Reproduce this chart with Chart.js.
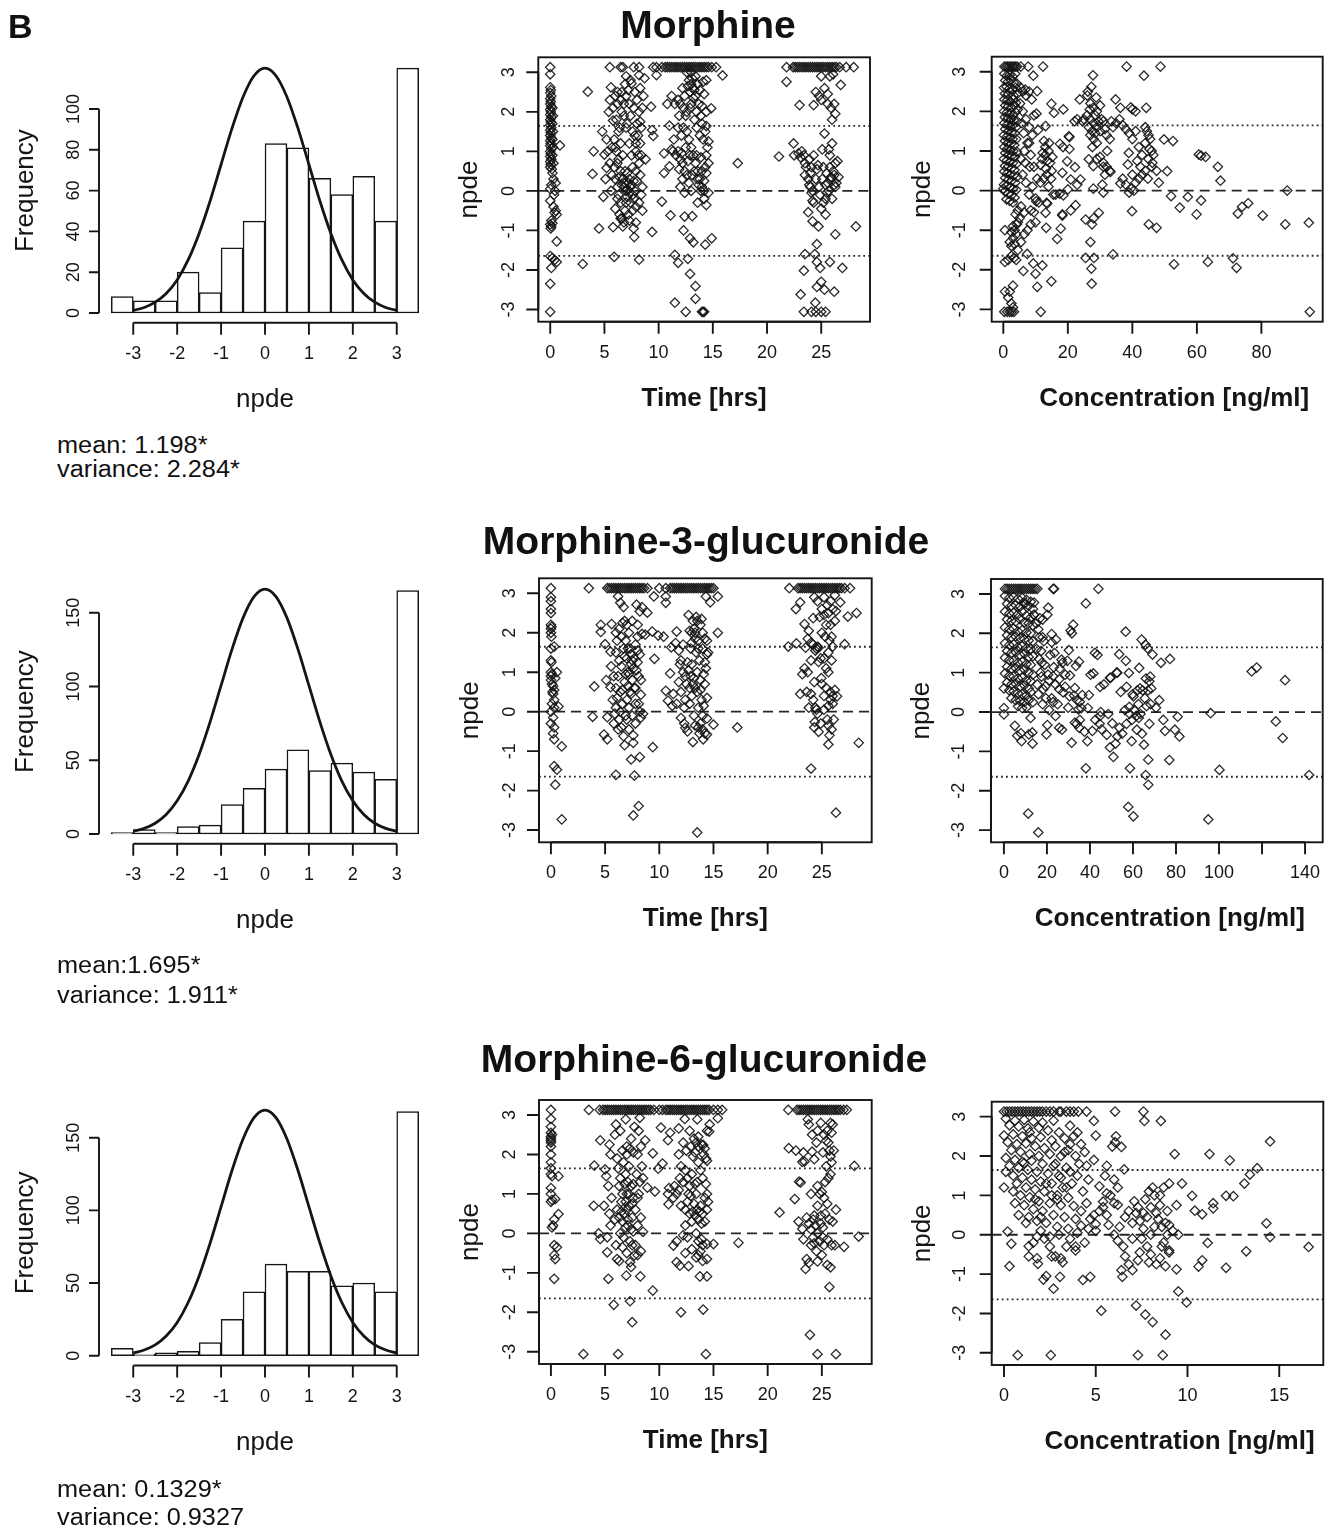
<!DOCTYPE html>
<html><head><meta charset="utf-8">
<script src="https://cdn.jsdelivr.net/npm/chart.js@4.4.1/dist/chart.umd.min.js"></script>
<style>
html,body{margin:0;padding:0;background:#fff;}
#page{position:relative;width:1333px;height:1537px;overflow:hidden;font-family:"Liberation Sans",Arial,Helvetica,sans-serif;color:#111;}
#page canvas{position:absolute;}
.t{position:absolute;white-space:nowrap;line-height:1;}
</style></head><body><div id="page"></div>
<script>
// ---------------- DATA ----------------
const titles = ["Morphine", "Morphine-3-glucuronide", "Morphine-6-glucuronide"];
const statsMean = ["mean: 1.198*", "mean:1.695*", "mean: 0.1329*"];
const statsVar = ["variance: 2.284*", "variance: 1.911*", "variance: 0.9327"];

const histCenters = [-3.25,-2.75,-2.25,-1.75,-1.25,-0.75,-0.25,0.25,0.75,1.25,1.75,2.25,2.75,3.25];
const morHist = [8,6,6,20,10,32,45,83,81,66,58,67,45,120];
const m3gHist = [1,3,1,5,6,20,31,44,57,43,48,42,37,165];
const m6gHist = [5,1,2,3,9,25,44,63,58,58,48,50,44,168];

const curveX = [-3,-2.75,-2.5,-2.25,-2,-1.75,-1.5,-1.25,-1,-0.75,-0.5,-0.25,0,0.25,0.5,0.75,1,1.25,1.5,1.75,2,2.25,2.5,2.75,3];
const morCurve = [1.3,2.7,5.3,9.6,16.2,26.0,39.0,54.9,72.8,90.6,105.9,116.3,120,116.3,105.9,90.6,72.8,54.9,39.0,26.0,16.2,9.6,5.3,2.7,1.3];
const m3gCurve = [1.8,3.8,7.3,13.2,22.5,35.9,53.9,76.0,100.7,125.3,146.5,160.9,166,160.9,146.5,125.3,100.7,76.0,53.9,35.9,22.5,13.2,7.3,3.8,1.8];
const m6gCurve = [1.9,3.9,7.4,13.5,22.9,36.6,54.9,77.4,102.5,127.6,149.1,163.8,169,163.8,149.1,127.6,102.5,77.4,54.9,36.6,22.9,13.5,7.4,3.9,1.9];

const histXTicks = [-3,-2,-1,0,1,2,3];
const morFreqTicks = [0,20,40,60,80,100];
const glucFreqTicks = [0,50,100,150];
const npdeTicks = [-3,-2,-1,0,1,2,3];
const timeTicks = [0,5,10,15,20,25];
const morConcTicks = [0,20,40,60,80];
const m3gConcTicks = [0,20,40,60,80,100,120,140];
const m3gConcLabels = ["0","20","40","60","80","100","","140"];
const m6gConcTicks = [0,5,10,15];

const refLevels = [0, 1.645, -1.645];
const CAP_HI = 3.13, CAP_LO = -3.06;

// Morphine npde vs time  (flat x,y pairs)
const morTimePts = [0,2.95,0,2.62,0.05,2.55,0,2.48,0.1,2.4,0,2.33,0.05,2.26,0,2.2,0.1,2.13,0,2.06,0.05,2.0,0,1.93,0.1,1.87,0,1.8,0.05,1.74,0,1.67,0.1,1.6,0,1.54,0.05,1.47,0,1.4,0.1,1.34,0,1.27,0.05,1.2,0,1.14,0.1,1.07,0,1.0,0.05,0.94,0,0.87,0.1,0.8,0,0.74,0.05,0.67,0,0.6,0.15,0.55,0.2,2.1,0.2,1.7,0.2,1.3,0.2,0.9,0.25,1.9,0.25,1.5,0.25,1.1,0.3,0.7,0.2,0.45,0.3,0.3,0.1,0.15,0,0.05,0.35,-0.1,0,-0.25,0.3,-0.4,0.5,-0.5,0.6,-0.6,0.1,-0.75,0,-0.85,0.1,-0.9,0.2,-0.82,0.05,-0.95,0,-1.65,0.2,-1.7,0.1,-1.95,0.6,-1.8,0.6,-1.28,0.9,1.15,0.4,-0.55,0,-2.35,0.4,-1.75,0.5,0.2,0.45,0.0,
3.47,2.51,3.0,-1.85,3.9,0.43,4.0,1.0,4.5,-0.95,4.8,1.5,5.0,0.92,5.1,0.3,4.9,-0.15,5.2,1.3,5.2,0.58,5.5,2.3,5.6,2.62,5.8,-0.92,5.8,1.78,6.0,2.4,5.7,0.4,6.0,0.3,6.2,0.1,6.2,-0.2,6.4,-0.6,6.6,-0.7,6.8,-0.8,6.5,-0.3,5.9,-1.67,6.7,-0.9,6.6,2.0,6.8,2.2,7.0,2.4,7.2,2.55,7.0,1.6,7.3,1.2,7.5,0.9,7.6,0.6,7.2,0.2,7.4,0.1,7.6,-0.1,7.0,0.0,7.8,0.0,7.0,-0.3,7.6,-0.5,7.2,-0.6,7.9,-0.8,7.75,-1.17,8.2,-1.74,8.2,2.93,7.5,2.72,8.8,0.8,8.3,0.4,8.3,1.2,8.0,1.7,8.2,2.0,8.0,2.3,8.5,-0.5,8.2,-0.3,8.5,0.1,
6.1,1.8,6.3,1.5,6.5,1.2,6.7,0.9,6.2,0.7,6.9,0.5,6.4,0.35,6.8,0.1,7.1,-0.15,7.3,-0.05,7.7,0.25,7.9,0.5,8.1,0.9,7.8,1.4,7.4,1.9,7.7,2.1,6.9,2.7,6.2,2.2,5.9,1.3,5.4,2.0,5.6,0.0,6.0,-0.45,7.4,-0.3,7.1,0.45,6.6,0.15,7.9,1.0,8.4,1.6,8.6,2.4,8.7,2.85,8.4,-0.1,
5.3,1.0,5.5,0.7,5.7,1.1,5.9,0.6,6.1,1.0,6.3,0.8,6.5,0.5,6.7,0.3,6.9,0.2,7.1,0.05,7.3,0.3,7.5,0.15,7.7,-0.2,7.9,-0.4,6.3,-0.1,6.5,-0.7,6.9,-0.5,7.3,-0.75,7.7,-0.95,5.8,2.1,6.2,2.5,6.5,2.3,6.8,1.9,7.1,1.7,7.3,2.2,7.6,1.5,7.9,1.2,8.1,1.4,8.3,1.75,8.5,2.1,8.3,2.6,6.0,1.1,6.4,1.6,6.6,2.5,7.0,2.9,7.4,2.8,7.8,2.5,8.0,0.25,8.2,0.7,8.4,0.9,
9.3,2.13,9.4,1.54,9.5,1.39,9.4,-1.04,9.8,2.93,
10.3,-0.27,10.5,0.45,10.5,0.95,10.8,2.2,11.2,2.4,11.0,1.65,11.3,1.0,11.0,0.62,11.1,-0.62,11.5,-1.62,11.8,-1.82,11.5,-2.83,12.3,-1.0,12.4,-0.65,12.9,-1.2,12.7,-1.72,12.9,-2.1,13.4,-2.73,13.4,-2.41,13.2,-1.3,13.1,-0.64,14.3,-1.36,14.9,-1.2,13.6,-0.3,14.4,-0.36,14.6,1.25,14.4,1.64,14.85,2.09,15.9,2.92,12.6,3.0,12.8,2.8,13.0,2.7,13.2,2.6,12.9,2.5,13.4,2.4,13.0,2.2,12.6,2.0,13.5,2.0,12.3,2.1,12.0,2.2,11.8,2.3,13.7,2.2,14.0,2.15,14.4,2.0,14.1,2.76,14.4,2.8,13.1,2.85,13.3,2.55,12.7,2.65,
11.4,1.3,11.6,0.9,11.8,1.0,12.0,0.8,12.2,0.7,12.4,0.5,12.3,1.6,12.6,1.5,12.8,1.3,13.0,1.1,13.2,0.9,13.4,0.7,13.6,0.5,13.8,0.3,14.0,0.1,14.2,0.0,12.0,0.1,12.4,-0.05,13.1,0.4,13.5,0.9,13.8,1.4,14.0,1.7,14.3,0.6,14.4,0.9,14.0,0.5,12.8,0.2,11.9,0.55,13.3,1.8,14.1,1.3,14.6,0.7,14.4,0.45,11.2,1.05,11.8,1.6,12.5,1.9,13.0,0.0,14.6,-0.05,12.1,0.95,12.7,0.75,13.7,0.15,14.2,0.25,13.9,0.85,17.3,0.7,
11.5,2.2,11.9,1.9,12.1,1.4,12.5,1.1,12.9,0.9,13.3,0.5,13.6,0.3,13.9,0.0,14.2,-0.2,12.6,0.4,12.2,0.3,13.5,1.6,13.9,1.9,14.3,1.5,14.5,1.1,13.0,3.0,13.4,2.9,13.6,2.7,13.8,2.55,12.4,2.4,12.2,2.6,14.2,2.45,13.2,2.35,12.9,2.1,
21.1,0.87,21.8,2.76,22.45,1.2,22.5,0.9,23.2,1.0,23.4,0.9,23.6,0.6,23.8,0.3,24.0,0.1,24.2,0.0,23.5,0.4,24.1,0.6,24.5,0.3,24.8,0.1,24.3,-0.3,24.9,-0.1,25.4,-0.2,25.6,0.2,25.9,0.3,26.2,0.15,26.4,0.2,26.1,0.5,25.8,0.9,26.0,1.2,25.3,1.45,26.3,0.7,26.5,0.75,23.0,2.17,24.3,2.17,24.5,2.5,24.8,2.4,25.0,2.3,25.3,2.6,25.6,2.2,25.9,2.1,26.0,1.8,26.2,2.2,25.0,2.9,25.8,2.9,26.1,2.95,26.8,2.68,23.8,-0.54,24.2,-0.77,24.75,-0.9,24.2,-0.25,25.0,-0.45,25.4,-0.6,26.3,-1.1,28.2,-0.9,24.6,-1.35,23.5,-1.6,24.4,-1.6,24.6,-1.8,24.9,-1.95,23.4,-2.02,23.1,-2.62,24.6,-2.43,25.0,-2.3,25.3,-2.5,26.2,-2.55,25.8,-1.8,26.95,-1.95,24.45,-2.83,22.9,0.95,23.1,0.85,25.1,1.05,25.5,0.45,25.7,0.0,26.0,-0.2,25.2,0.6,24.6,0.55,25.9,0.35,26.3,0.1,24.0,0.45,25.5,-0.05,25.2,-0.3,26.6,0.35,25.6,2.45,26.3,1.95,25.7,1.05,
23.5,0.7,23.9,0.8,24.3,0.9,24.7,0.65,25.1,0.3,25.4,0.15,25.8,0.6,26.2,0.4,24.1,-0.05,23.9,0.15];
const morTimeCapHi = [0,5.5,6.5,6.7,7.7,8.2,9.5,9.8,10.3,10.6,10.8,11.0,11.2,11.4,11.6,11.8,12.0,12.2,12.4,12.6,12.8,13.0,13.2,13.4,13.6,13.8,14.0,14.2,14.4,14.6,14.9,15.3,21.8,22.4,22.6,22.8,23.0,23.2,23.4,23.6,23.8,24.0,24.2,24.4,24.6,24.8,25.0,25.2,25.4,25.6,25.8,26.0,26.2,26.4,26.7,27.3,28.0];
const morTimeCapLo = [0,12.5,14.0,14.1,14.2,23.4,24.1,24.5,25.0,25.4];

// Morphine npde vs concentration
const morConcPts = [0.3,2.95,1.1,2.9,2.0,2.92,2.9,2.88,3.7,2.95,0.6,2.78,1.5,2.75,2.4,2.8,3.3,2.72,4.2,2.7,0.2,2.6,1.0,2.62,1.9,2.58,2.8,2.55,3.8,2.6,0.5,2.45,1.4,2.42,2.3,2.48,3.2,2.4,4.4,2.45,0.3,2.3,1.2,2.28,2.1,2.25,3.0,2.3,3.9,2.22,0.6,2.15,1.5,2.12,2.5,2.1,3.4,2.15,4.5,2.05,0.2,2.0,1.1,1.97,2.0,1.95,2.9,1.9,3.8,1.98,0.5,1.85,1.4,1.82,2.4,1.8,3.3,1.78,4.3,1.75,0.3,1.7,1.2,1.66,2.1,1.62,3.0,1.65,3.9,1.6,0.6,1.55,1.6,1.5,2.6,1.48,3.5,1.45,0.2,1.4,1.1,1.36,2.0,1.33,2.9,1.3,4.0,1.3,0.5,1.25,1.4,1.2,2.4,1.18,3.4,1.15,0.3,1.1,1.2,1.05,2.2,1.02,3.1,1.0,4.2,0.98,0.6,0.95,1.6,0.9,2.6,0.88,3.6,0.85,0.2,0.8,1.1,0.76,2.0,0.72,3.0,0.7,4.1,0.68,0.5,0.62,1.5,0.6,2.5,0.56,3.5,0.52,0.3,0.48,1.2,0.44,2.2,0.4,3.2,0.38,4.3,0.35,0.6,0.32,1.6,0.28,2.6,0.25,3.7,0.2,0.2,0.15,1.1,0.12,2.1,0.08,3.0,0.05,4.0,0.02,0.5,-0.02,1.5,-0.08,2.5,-0.12,3.5,-0.18,1.0,-0.22,2.0,-0.26,3.0,-0.3,0.0,0.05,
4.5,-0.5,3.8,-0.6,5.0,-0.7,4.2,-0.85,3.0,-0.9,2.5,-1.05,3.5,-1.0,4.0,-1.1,3.0,-1.2,2.0,-1.3,2.5,-1.4,3.5,-1.35,4.5,-0.8,0.5,-1.0,3.3,-1.7,0.5,-1.8,1.5,-1.75,2.5,-1.65,4.0,-1.75,3.0,-2.4,2.0,-2.55,0.5,-2.55,1.5,-2.7,2.5,-2.85,3.0,-2.95,5.5,-0.4,6.5,-0.55,
5.4,2.6,6.0,2.5,7.0,2.4,8.0,2.5,9.3,2.9,10.5,2.51,5.2,2.2,6.0,2.0,7.0,1.8,8.0,1.6,9.5,1.9,10.3,1.94,10.8,1.53,13.1,1.63,14.9,2.19,15.7,1.96,18.6,2.05,12.6,1.25,14.0,1.0,13.0,0.9,12.0,0.8,14.5,0.7,15.0,0.5,13.5,0.4,12.5,0.3,14.0,0.1,15.5,-0.1,11.5,0.2,10.5,0.3,9.5,0.6,8.5,0.9,8.0,1.2,6.5,1.0,5.5,0.8,6.0,0.4,7.0,0.2,8.0,-0.1,9.0,0.1,10.0,-0.2,11.0,-0.3,13.0,1.1,14.2,1.2,12.2,0.95,13.6,0.75,11.5,0.65,15.2,0.85,14.8,0.3,13.2,0.55,6.8,2.55,8.8,2.3,6.3,1.45,7.5,1.2,5.8,1.7,9.0,1.4,8.2,0.6,6.8,0.7,
17.55,1.18,20.5,1.35,20.3,1.37,18.5,1.1,20.5,1.05,19.8,0.74,22.2,0.59,23.9,0.28,20.9,0.28,18.3,0.45,16.2,-0.1,18.6,-0.12,17.5,-0.08,20.0,0.03,22.9,0.15,22.4,-0.37,20.9,-0.5,18.3,-0.6,17.8,-0.96,16.7,-1.22,13.6,-0.33,13.4,-0.31,13.1,-0.56,13.3,-0.94,10.2,-0.27,9.5,-0.55,8.5,-0.85,7.5,-1.0,6.5,-1.1,5.5,-1.3,4.5,-1.5,8.5,-0.5,10.0,-0.8,9.3,-1.84,10.0,-2.1,12.1,-1.89,6.2,-2.03,7.4,-1.6,14.9,-2.29,10.5,-2.43,22.1,1.75,22.9,1.8,18.3,-0.63,
23.7,2.3,26.2,2.5,27.3,2.62,27.8,2.91,26.0,2.4,27.0,2.2,28.0,2.1,29.0,2.0,30.0,2.15,26.0,1.9,27.0,1.8,28.0,1.7,29.0,1.6,30.0,1.5,27.0,1.4,28.0,1.3,29.0,1.2,26.5,1.6,27.5,1.5,28.5,1.9,30.5,1.8,31.0,1.75,31.5,1.55,32.0,1.4,33.0,1.3,27.6,1.1,27.9,0.62,26.5,0.79,29.0,0.8,30.0,0.85,31.0,0.7,32.0,0.6,33.0,0.5,32.2,1.0,29.6,-0.56,25.5,-0.73,28.0,-0.7,27.5,-0.85,27.0,-1.3,25.5,-1.7,28.1,-1.7,27.3,-1.97,27.4,-2.35,34.0,-1.61,27.9,0.05,30.7,0.15,31.0,-0.05,31.5,0.4,33.2,0.47,31.0,0.6,28.5,1.45,29.5,1.75,26.8,2.05,28.8,2.35,25.0,1.8,24.5,1.75,
34.8,2.3,36.3,2.09,40.0,2.05,41.0,2.0,39.5,2.1,36.0,1.8,37.0,1.65,38.0,1.55,34.0,1.6,35.0,1.7,33.5,1.75,39.0,1.45,40.0,1.3,41.0,1.5,44.0,1.6,45.0,1.4,44.5,1.5,45.5,1.3,46.0,1.0,44.0,1.2,42.0,1.1,43.0,0.9,42.5,0.6,44.0,0.5,45.0,0.8,46.0,0.6,46.5,0.9,47.5,0.5,38.9,0.95,38.6,0.66,37.0,0.3,38.0,0.15,36.3,0.18,40.0,0.4,41.0,0.2,42.0,0.3,39.5,0.05,43.0,0.4,39.0,-0.05,40.5,0.0,43.6,2.9,44.3,2.09,45.3,1.05,46.2,0.7,44.8,0.3,41.5,0.75,
50.8,0.49,49.8,1.29,52.6,1.25,48.2,0.2,39.9,-0.52,45.1,-0.85,47.5,-0.94,52.0,-0.14,54.7,-0.43,57.2,-0.16,59.9,-0.6,61.3,-0.25,60.6,0.91,61.3,0.88,62.7,0.85,66.5,0.6,67.3,0.25,52.9,-1.86,63.4,-1.8,71.2,-1.71,72.3,-1.95,72.7,-0.58,74.0,-0.41,75.9,-0.32,80.4,-0.63,88.0,0.0,87.4,-0.85,94.7,-0.81];
const morConcCapHi = [0.3,0.8,1.3,1.8,2.3,2.8,3.3,3.8,4.3,5.4,7.7,12.3,38.2,48.7];
const morConcCapLo = [0.3,1.2,2.0,2.6,3.3,11.6,95.0];

// M3G npde vs time
const m3gTimePts = [0,2.9,0,2.8,0,2.6,0,2.5,0,2.2,0.05,2.15,0,2.1,0,2.0,0.05,1.9,0,1.6,0.3,1.65,0,1.3,0.05,1.25,0,1.0,0.1,0.95,0,0.9,0,0.8,0.1,0.7,0.2,0.65,0.3,0.55,0.2,0.45,0.3,0.3,0.1,0.2,0.3,0.1,0.7,0.13,0,0.0,0.2,-0.15,0,-0.3,0.3,-0.4,0.2,-0.55,0.3,-0.7,0.55,1.0,1.0,-0.88,0.3,-1.38,0.55,-1.47,0.4,-1.85,1.0,-2.73,0.4,0.85,0.15,0.5,
3.85,-0.13,4.0,0.64,4.6,2.2,4.6,2.02,5.0,1.71,5.1,0.8,5.5,0.62,5.2,-0.14,4.9,-0.58,5.2,-0.7,5.6,2.22,5.5,1.52,5.55,1.15,6.0,1.5,6.0,2.0,6.2,0.9,6.0,0.6,6.4,0.5,6.0,0.1,6.3,-0.2,6.5,-0.4,5.9,-0.05,6.0,-1.6,6.2,2.92,6.4,2.76,6.7,2.65,6.8,2.3,7.0,2.2,6.6,2.25,7.2,2.0,6.9,1.8,7.3,1.6,7.0,1.35,7.4,1.2,7.6,1.1,7.2,0.95,7.5,0.8,7.7,0.6,7.3,0.5,7.0,0.3,7.8,0.2,7.2,0.1,7.5,-0.1,7.0,-0.2,7.8,-0.3,6.7,-0.62,7.6,-0.6,7.6,-0.79,7.4,-1.21,8.2,-1.15,7.7,-1.62,7.6,-2.63,8.1,-2.39,7.9,2.71,8.2,2.54,8.4,2.65,8.9,2.51,8.4,1.97,8.0,1.9,8.2,1.45,8.0,1.25,8.1,0.9,8.3,0.8,8.3,0.43,8.2,0.0,8.5,-0.05,8.3,-0.15,8.7,1.95,6.5,1.15,6.8,0.75,6.3,1.3,6.6,0.2,7.1,0.65,7.4,1.45,6.1,0.35,5.8,0.9,7.9,1.05,7.7,1.35,6.9,-0.1,6.4,0.0,7.1,1.0,6.7,1.6,
5.7,0.3,5.8,-0.3,6.1,1.8,6.3,2.1,6.5,1.9,6.8,1.4,7.1,1.6,7.5,1.3,7.8,1.7,8.0,1.55,7.4,0.45,7.8,0.6,8.1,0.2,6.6,0.55,6.9,0.95,6.2,-0.45,7.2,-0.45,6.8,-0.85,8.0,2.2,7.5,2.3,
9.35,2.03,9.9,1.93,10.4,1.9,9.55,1.34,9.4,-0.9,9.5,2.92,10.6,2.92,10.6,2.76,
10.6,0.53,10.8,0.28,11.2,0.15,11.3,0.45,11.0,0.97,11.1,1.63,11.5,1.74,11.6,2.03,11.8,1.55,12.0,1.3,12.2,1.0,11.8,0.75,12.0,0.5,11.6,0.2,12.3,0.1,12.5,0.7,12.6,1.25,12.9,0.9,12.8,0.6,13.0,0.4,12.7,2.45,12.8,2.05,13.0,2.0,13.2,2.1,13.5,2.3,13.4,2.4,13.8,2.2,14.0,2.0,13.6,1.8,14.2,1.85,14.4,1.8,14.0,1.6,13.4,1.5,14.4,1.45,14.5,1.5,13.0,1.2,13.5,1.0,13.8,0.8,14.2,0.7,13.3,0.6,13.9,0.3,14.4,0.35,13.6,0.1,14.0,-0.1,12.0,-0.16,12.4,-0.41,12.6,-0.5,13.3,-0.35,13.6,-0.4,13.8,-0.3,14.0,-0.45,14.2,-0.55,14.4,-0.17,15.0,-0.33,14.4,-0.58,14.05,-0.7,13.1,-0.77,15.4,2.0,15.4,2.92,14.7,2.77,14.3,2.92,13.3,1.85,12.9,1.6,13.2,0.85,14.3,1.1,13.7,1.3,12.4,0.3,14.1,0.95,12.2,1.7,13.1,2.3,17.2,-0.4,
11.9,1.2,12.4,0.9,12.7,1.05,13.1,0.7,13.5,0.5,13.8,0.55,14.1,0.15,13.2,-0.1,12.8,0.2,13.6,1.6,13.9,2.35,13.3,2.0,13.0,1.75,14.2,1.25,13.7,-0.55,12.3,-0.3,
21.9,1.65,22.65,1.73,22.6,2.6,23.0,2.77,23.0,0.45,23.4,1.1,23.7,1.0,23.5,1.62,23.4,2.22,23.8,2.05,23.7,1.85,24.0,1.75,24.2,1.7,24.5,1.6,24.4,1.55,24.0,1.3,24.7,1.26,23.8,0.1,23.6,0.5,24.0,0.45,24.2,0.3,24.4,0.1,24.5,0.05,24.6,-0.05,24.35,-0.26,24.3,-0.4,24.7,-0.51,24.0,-1.44,24.2,2.37,24.3,2.9,24.6,2.8,25.0,2.6,25.2,2.9,25.5,2.7,25.8,2.8,25.6,2.5,26.0,2.6,26.2,2.3,25.4,2.2,25.0,2.0,25.3,1.9,25.7,1.8,25.6,1.5,25.9,1.3,25.4,1.1,25.6,1.0,24.95,0.85,25.0,0.7,25.4,0.6,25.8,0.5,26.0,0.4,26.4,0.39,26.0,0.2,25.6,0.15,25.2,0.05,25.5,-0.2,25.6,-0.35,25.9,-0.45,25.7,-0.6,25.6,-0.83,26.3,-2.56,26.2,2.95,26.7,2.77,26.3,2.55,27.1,1.71,27.4,2.41,28.2,2.5,28.4,-0.79,26.0,1.65,24.6,1.65,24.7,1.62,23.2,0.95,26.2,0.55,25.2,1.35,
24.8,2.4,25.2,2.45,25.8,2.2,25.9,1.9,24.9,1.35,25.2,0.4,25.8,0.3,26.1,-0.2,24.3,0.75,24.9,-0.3];
const m3gTimeCapHi = [0,3.5,5.2,5.4,5.6,5.8,6.0,6.2,6.4,6.6,6.8,7.0,7.2,7.4,7.6,7.8,8.0,8.2,8.4,8.6,8.9,10.0,10.6,11.0,11.2,11.4,11.6,11.8,12.0,12.2,12.4,12.6,12.8,13.0,13.2,13.4,13.6,13.8,14.0,14.2,14.4,14.6,14.8,15.0,22.0,22.8,23.0,23.2,23.4,23.6,23.8,24.0,24.2,24.4,24.6,24.8,25.0,25.2,25.4,25.6,25.8,26.0,26.2,26.4,26.6,26.8,27.1,27.6];
const m3gTimeCapLo = [13.5];

// M3G npde vs concentration
const m3gConcPts = [0.5,2.95,2.5,2.9,4.5,2.92,6.5,2.88,8.5,2.9,10.5,2.85,12.5,2.8,14,2.78,1.5,2.75,3.5,2.7,5.5,2.72,7.5,2.68,9.5,2.76,11.5,2.7,13.5,2.62,0.5,2.55,2.5,2.5,4.5,2.52,6.5,2.48,8.5,2.55,10.5,2.45,12.5,2.4,14.0,2.47,1.5,2.35,3.5,2.32,5.5,2.3,7.5,2.36,9.5,2.28,11.5,2.25,13.5,2.2,0.5,2.15,2.5,2.1,4.5,2.12,6.5,2.05,8.5,2.08,10.5,2.02,12.5,2.0,1.5,1.95,3.5,1.9,5.5,1.92,7.5,1.88,9.5,1.85,11.5,1.82,13.5,1.8,0.5,1.75,2.5,1.7,4.5,1.72,6.5,1.65,8.5,1.68,10.5,1.62,12.5,1.6,1.5,1.55,3.5,1.5,5.5,1.52,7.5,1.45,9.5,1.48,11.5,1.4,13.5,1.42,0.5,1.38,2.5,1.32,4.5,1.3,6.5,1.25,8.5,1.28,10.5,1.22,12.5,1.2,1.5,1.15,3.5,1.1,5.5,1.12,7.5,1.05,9.5,1.08,11.5,1.0,13.5,0.95,0.5,0.98,2.5,0.92,4.5,0.9,6.5,0.85,8.5,0.88,10.5,0.8,12.5,0.78,1.5,0.75,3.5,0.7,5.5,0.72,7.5,0.65,9.5,0.68,11.5,0.6,0.0,0.6,2.5,0.55,4.5,0.52,6.5,0.48,8.5,0.45,10.5,0.42,12.5,0.5,3.5,0.35,5.5,0.3,7.5,0.28,9.5,0.25,11.5,0.3,13.5,0.25,6.5,0.15,8.5,0.1,10.5,0.12,0.0,0.1,0.0,-0.06,
9.8,2.76,14.0,2.47,20.6,2.65,20.2,2.47,18.0,2.35,16.7,2.38,15.0,2.25,16.0,2.1,18.0,1.9,22.2,1.98,24.2,1.84,22.2,1.77,18.6,1.8,16.4,1.35,18.3,0.58,19.4,0.66,20.5,0.95,22.9,0.91,23.2,1.14,26.8,1.33,27.2,1.25,25.7,0.83,25.7,0.58,22.2,0.35,22.9,0.25,20.2,-0.33,19.8,-0.57,25.7,-0.4,27.0,-0.45,12.4,-0.15,11.6,-0.57,13.2,-0.52,13.3,-0.8,7.9,-0.54,8.2,-0.74,5.1,-0.35,6.2,-0.6,11.3,-2.58,17.0,1.0,15.5,0.7,16.0,0.45,17.5,0.9,15.2,1.6,19.0,1.2,21.0,0.8,24.0,0.7,26.0,1.1,27.5,0.5,24.0,-0.1,21.0,0.05,18.0,0.2,16.5,1.9,17.3,1.55,
17.6,1.25,19.5,0.35,21.5,1.45,23.5,1.5,25.0,0.2,28.5,0.95,29.5,1.3,30.5,0.4,
28.4,0.64,30.7,0.93,30.2,1.57,31.0,2.07,32.2,2.22,31.6,2.0,33.5,1.17,34.9,1.28,33.0,0.61,29.9,0.11,32.6,0.42,34.0,0.3,34.6,0.07,35.3,0.26,36.4,0.43,36.0,0.1,35.3,-0.2,33.0,-0.27,39.5,0.43,33.8,-0.3,35.0,-0.4,31.5,-0.78,38.8,-0.74,41.1,-0.48,45.4,-0.44,44.5,-0.3,44.7,-0.1,47.8,-0.58,50.4,-0.29,49.3,-0.9,50.9,-1.14,51.9,-0.8,52.7,-0.62,53.7,-0.4,52.7,1.0,49.3,0.87,46.5,0.7,44.7,0.64,41.6,0.98,40.3,0.95,42.3,1.5,43.5,1.45,38.1,-1.43,57.8,-2.41,60.2,-2.65,58.6,-1.43,65.9,-1.6,67.1,-1.85,67.1,-1.21,65.1,-0.83,64.2,-0.55,59.4,-0.74,57.0,-0.3,56.3,0.05,58.3,0.13,58.5,-0.05,59.5,-0.2,60.5,0.05,61.5,-0.1,62.5,0.2,63.5,-0.05,60.2,0.4,59.8,0.45,57.0,0.64,54.3,0.51,56.7,1.3,53.6,1.47,58.1,0.99,56.6,2.04,62.9,1.12,63.3,0.6,64.0,1.84,65.9,1.71,66.8,1.62,69.1,1.46,73.0,1.25,77.2,1.35,64.5,0.55,67.6,0.78,65.5,0.35,66.3,0.15,67.0,0.55,68.5,0.6,68.2,0.2,72.2,0.3,70.7,0.11,67.6,-0.3,74.1,-0.2,74.9,-0.48,76.9,-1.22,79.5,-0.45,81.6,-0.62,80.8,-0.12,96.1,-0.03,95.0,-2.73,100.2,-1.47,115.2,1.03,117.5,1.13,130.7,0.81,126.4,-0.24,129.6,-0.66,141.9,-1.6,38.1,2.76,45.0,0.0,49.6,0.87,52.4,1.0,48.5,-0.05,42.5,-0.2,37.5,-0.5,39.0,0.1,55.0,-0.55,61.8,-0.45,62.0,0.55,68.0,0.9,66.0,0.85,62.7,-0.15];
const m3gConcCapHi = [0.5,1.5,2.5,3.5,4.5,5.5,6.5,7.5,8.5,9.5,10.5,11.5,12.5,13.5,14.5,15.5,22.9,23.3,43.9];
const m3gConcCapLo = [16.0];

// M6G npde vs time
const m6gTimePts = [0,2.9,0,2.7,0,2.55,0,2.45,0,2.4,0,2.35,0,2.3,0,2.2,0,2.0,0,1.8,0,1.65,0,1.5,0.1,1.45,0.7,1.45,0,1.15,0,1.0,0,0.8,0.4,0.87,0.7,0.49,0.3,0.35,0.2,0.2,0.1,0.15,0.3,-0.3,0.55,-0.35,0.3,-0.55,0.4,-0.65,0.3,-1.15,0.1,2.5,0.1,0.85,
4.0,1.72,3.95,0.7,4.55,2.36,4.4,0.0,4.55,-0.14,4.9,0.7,5.0,1.62,5.1,1.45,5.4,2.25,5.5,2.0,5.3,1.2,5.6,0.9,5.4,0.5,5.5,0.2,5.2,-0.1,5.2,-0.48,5.3,-1.15,5.8,-1.81,6.1,-0.65,6.3,-0.7,5.9,2.5,6.0,2.76,6.4,2.6,6.9,2.89,6.6,2.1,7.0,2.0,6.7,1.8,7.2,1.7,6.9,1.5,7.4,1.2,7.0,1.0,6.5,0.8,7.2,0.7,6.8,0.5,7.5,0.4,6.6,0.3,7.1,0.2,7.6,0.05,6.7,-0.1,7.3,-0.2,7.8,-0.3,7.0,-0.5,7.7,-0.56,7.3,-0.73,6.95,-1.07,7.3,-1.72,7.5,-2.25,8.25,-1.09,8.0,-0.55,8.3,-0.45,8.5,0.04,8.3,0.4,8.0,0.9,8.2,1.3,8.5,1.4,8.4,1.7,8.0,2.0,8.3,2.2,8.7,2.36,8.1,2.6,8.2,2.93,8.9,1.16,9.4,2.03,9.6,1.06,9.9,1.64,9.4,-1.45,6.3,1.2,6.1,0.6,7.6,0.9,7.9,1.5,6.4,0.0,7.4,2.4,7.7,2.7,6.2,1.65,7.1,0.35,6.0,-0.3,7.5,-0.3,8.0,0.2,7.3,2.15,6.8,1.25,
6.1,1.9,6.4,1.4,6.6,1.0,6.9,0.8,7.2,1.0,7.5,0.75,7.8,0.6,7.0,0.6,6.5,0.55,6.9,0.15,7.4,0.1,6.3,0.4,5.9,0.35,7.6,1.25,8.1,1.0,7.0,2.2,7.6,2.05,7.1,1.3,6.6,-0.35,7.4,-0.85,
10.3,1.77,10.15,2.68,10.8,2.36,11.0,2.55,10.8,1.0,10.9,1.15,10.85,0.74,11.4,1.2,11.6,1.0,11.8,1.1,11.3,0.9,12.0,0.7,12.0,1.7,11.8,2.0,12.2,2.3,11.8,2.66,12.35,2.9,13.5,2.89,12.4,1.6,12.6,1.4,12.8,1.2,13.0,1.5,12.6,0.8,12.4,0.6,12.8,0.5,13.1,0.55,13.3,0.45,13.0,0.3,12.4,0.2,12.2,-0.05,11.3,-0.31,11.6,-0.2,11.6,-0.73,11.9,-0.82,12.4,-0.5,12.7,-0.83,13.0,-0.4,12.6,-0.1,13.4,0.0,13.6,-0.2,13.9,-0.15,13.4,-0.61,13.6,-0.55,14.0,-0.7,13.8,-0.45,14.0,-0.3,14.4,-0.27,14.4,-0.65,13.75,-1.09,14.4,-1.09,15.0,-0.27,17.3,-0.24,12.0,-2.0,14.05,-1.93,13.2,2.4,13.4,2.3,13.6,2.2,13.9,2.25,14.2,2.15,14.05,2.24,14.4,1.84,14.3,1.9,14.4,2.6,14.65,2.76,14.6,2.58,13.6,1.8,13.8,1.6,14.0,1.4,14.3,1.25,14.4,1.0,14.5,0.8,14.4,0.6,14.0,0.5,13.6,0.35,14.2,0.3,13.8,0.7,13.4,1.0,15.4,2.92,12.8,2.6,13.1,1.95,13.5,1.3,12.9,0.95,13.7,0.55,12.5,2.1,
12.9,2.2,13.3,2.05,13.6,2.45,14.1,2.0,13.2,0.75,13.5,0.6,13.9,0.25,14.2,0.9,12.7,1.0,13.3,1.25,12.2,1.3,11.9,1.4,
21.1,0.53,22.5,0.87,21.95,2.16,22.6,2.1,23.2,1.81,23.4,1.82,22.9,1.31,23.05,1.29,23.3,2.05,24.1,2.07,24.3,1.88,22.85,0.3,23.2,0.11,23.3,-0.15,23.6,0.4,23.8,0.25,24.0,0.1,24.2,-0.1,24.4,0.2,24.6,0.0,24.3,-0.25,24.8,-0.2,24.0,-0.3,23.6,-0.65,23.5,-0.9,23.8,-0.75,24.6,-0.71,24.6,0.7,24.6,1.2,24.0,1.0,25.0,1.05,25.3,1.3,25.6,1.4,25.8,1.5,25.2,0.9,25.5,0.75,25.3,0.5,25.7,0.35,26.0,0.3,25.1,0.15,25.5,-0.15,25.9,-0.3,26.2,-0.3,27.05,-0.34,25.5,-0.8,25.8,-0.86,25.7,-1.36,23.9,-2.57,28.0,1.71,28.4,-0.08,24.1,2.5,24.6,2.6,24.9,2.8,25.2,2.5,25.5,2.6,25.8,2.8,26.0,2.76,25.4,2.35,25.7,2.1,25.8,1.95,25.9,1.8,23.7,2.89,23.8,2.76,24.5,2.3,25.1,2.05,24.9,0.45,25.2,-0.3,26.3,0.6,25.0,-0.55,24.3,0.45,
24.2,0.35,24.5,-0.45,24.9,0.25,25.1,-0.1,24.8,1.0,25.4,1.7,25.6,2.3,25.9,2.55,26.1,2.1];
const m6gTimeCapHi = [0,3.5,4.5,4.8,5.0,5.2,5.4,5.6,5.8,6.0,6.2,6.4,6.6,6.8,7.0,7.2,7.4,7.6,7.8,8.0,8.2,8.4,8.6,8.8,9.0,9.2,9.5,10.0,10.3,10.6,10.8,11.0,11.2,11.4,11.6,11.8,12.0,12.2,12.4,12.6,12.8,13.0,13.2,13.4,13.6,13.8,14.0,14.2,14.4,14.6,15.0,15.4,15.8,21.9,22.7,22.9,23.1,23.3,23.5,23.7,23.9,24.1,24.3,24.5,24.7,24.9,25.1,25.3,25.5,25.7,25.9,26.1,26.3,26.5,26.7,27.0,27.3];
const m6gTimeCapLo = [3.0,6.2,14.3,24.6,26.3];

// M6G npde vs concentration
const m6gConcPts = [0.1,2.95,0.6,2.9,1.1,2.92,1.6,2.88,2.1,2.85,2.7,2.9,0.3,2.78,0.8,2.75,1.3,2.7,1.9,2.72,2.4,2.65,3.0,2.6,0.0,2.52,0.5,2.55,1.0,2.5,1.4,2.6,1.5,2.45,2.0,2.48,2.6,2.4,3.3,2.45,0.2,2.35,0.7,2.3,1.2,2.32,1.7,2.25,2.2,2.2,2.8,2.25,3.5,2.15,0.4,2.15,0.9,2.1,1.4,2.05,1.9,2.0,2.5,2.05,3.1,2.0,0.1,1.95,0.6,1.9,1.0,1.85,1.1,1.82,1.5,1.88,2.1,1.8,2.7,1.75,3.4,1.7,0.3,1.75,0.8,1.7,1.3,1.65,1.8,1.6,2.4,1.55,3.0,1.5,0.1,1.6,0.5,1.5,1.0,1.45,1.5,1.4,2.0,1.35,2.6,1.3,3.2,1.2,0.0,1.2,0.7,1.3,1.2,1.2,1.7,1.15,2.2,1.1,2.9,1.0,0.5,1.1,0.9,1.0,1.4,0.95,1.9,0.85,2.5,0.8,3.1,0.75,0.8,0.5,1.1,0.75,1.6,0.65,2.1,0.6,2.7,0.5,3.3,0.45,1.35,0.45,1.8,0.35,2.3,0.3,2.9,0.2,3.5,0.15,2.0,0.1,2.5,-0.05,1.8,-0.05,2.2,-0.1,2.5,-0.3,3.0,0.0,
0.2,0.08,0.4,-0.23,0.3,-0.8,1.35,-0.29,1.35,-0.55,1.8,-0.6,1.85,-0.74,2.15,-1.14,2.3,-1.05,2.7,-1.37,3.05,-1.07,2.8,-0.55,3.1,-0.6,3.2,-0.7,3.4,-0.3,3.9,-0.3,3.9,-0.4,4.3,-1.15,4.7,-1.07,
3.6,2.77,4.9,2.89,5.0,2.52,3.8,2.5,4.2,2.3,3.9,2.0,4.1,1.8,4.5,1.75,4.4,2.1,4.9,1.9,5.2,1.23,5.6,1.05,5.4,0.84,5.0,0.27,5.0,0.1,4.9,0.5,4.7,0.4,4.5,0.8,4.2,0.23,3.9,0.4,3.8,0.73,3.5,0.94,3.7,1.3,4.0,1.5,4.3,1.1,3.6,1.6,4.6,1.4,4.2,0.6,
0.6,0.8,1.2,0.3,1.7,0.9,2.3,1.3,2.8,1.8,3.3,2.1,3.6,2.3,4.0,2.6,3.1,1.45,2.6,1.0,2.0,0.45,1.6,-0.2,2.9,0.9,3.4,1.2,4.0,0.05,4.4,-0.2,4.6,0.15,3.6,-0.1,2.6,-0.55,5.2,0.6,5.7,0.25,6.6,0.45,7.1,0.85,7.6,0.55,8.5,0.75,8.9,0.6,7.9,-0.7,8.6,-0.3,7.3,-0.65,
6.05,2.35,6.1,2.5,6.4,2.23,5.9,2.24,5.5,1.5,5.6,1.75,6.55,1.66,6.0,1.4,6.2,1.2,5.8,1.0,6.0,0.8,5.4,0.7,5.6,0.5,6.2,0.76,6.3,0.2,6.0,0.0,6.2,-0.15,6.5,-0.3,6.6,-0.55,6.4,-0.9,6.8,-0.75,7.0,-0.9,6.45,-1.07,7.0,0.3,7.2,0.55,7.4,0.35,7.6,0.15,7.8,0.45,7.3,0.7,7.5,-0.1,7.8,-0.3,8.0,0.0,8.2,0.2,8.4,0.4,8.6,0.2,8.8,0.3,9.0,0.25,9.2,0.1,8.7,-0.2,9.0,-0.4,8.5,-0.6,8.3,-0.75,8.8,-0.8,8.0,-0.5,7.7,0.9,7.9,1.1,8.1,1.2,8.2,1.0,8.0,0.7,8.5,1.0,8.7,1.2,9.0,1.3,9.4,0.75,9.7,1.3,8.3,0.55,7.65,2.89,8.55,2.89,9.3,2.05,9.5,0.0,7.0,-0.1,6.8,0.6,8.9,0.0,7.4,-0.45,
11.2,2.05,12.3,1.89,14.5,2.37,13.8,1.69,13.4,1.53,13.1,1.3,12.5,0.98,12.1,0.99,11.4,0.8,11.4,0.67,10.25,0.99,10.4,0.61,10.8,0.52,11.1,-0.21,10.8,-0.65,10.6,-0.81,12.1,-0.84,13.2,-0.42,14.3,0.29,14.5,-0.06,16.6,-0.31,9.95,-1.72,9.5,-1.44,9.4,-0.88,9.0,-0.45,8.8,-2.54,8.1,-2.22,7.7,-2.03,7.2,-1.8,5.3,-1.93];
const m6gConcCapHi = [0.0,0.15,0.3,0.45,0.6,0.75,0.9,1.05,1.2,1.35,1.5,1.65,1.8,1.95,2.1,2.3,2.5,2.7,3.0,3.1,3.4,3.6,3.8,4.05,4.5,6.05,7.6];
const m6gConcCapLo = [0.75,2.55,7.3,8.65];

// ---------------- LAYOUT ----------------
const FONT = '"Liberation Sans", Arial, Helvetica, sans-serif';
const INK = '#151515';
const page = document.getElementById('page');

function pairs(a){ const r=[]; for(let i=0;i<a.length;i+=2) r.push({x:a[i],y:a[i+1]}); return r; }
function capPts(xs, y){ return xs.map(x => ({x, y})); }

const rAxes = {
  id: 'rAxes',
  afterDatasetsDraw(chart, args, o) {
    const {ctx, chartArea: a} = chart;
    const xs = chart.scales.x, ys = chart.scales.y;
    ctx.save();
    ctx.strokeStyle = INK; ctx.fillStyle = INK; ctx.lineWidth = 1.9; ctx.setLineDash([]);
    if (o.box) ctx.strokeRect(a.left, a.top, a.right - a.left, a.bottom - a.top);
    const yb = a.bottom, xl = a.left;
    ctx.beginPath();
    ctx.moveTo(xs.getPixelForValue(o.xTicks[0]), yb);
    ctx.lineTo(xs.getPixelForValue(o.xTicks[o.xTicks.length-1]), yb);
    o.xTicks.forEach(t => { const p = xs.getPixelForValue(t); ctx.moveTo(p, yb); ctx.lineTo(p, yb + 12); });
    ctx.moveTo(xl, ys.getPixelForValue(o.yTicks[0]));
    ctx.lineTo(xl, ys.getPixelForValue(o.yTicks[o.yTicks.length-1]));
    o.yTicks.forEach(t => { const p = ys.getPixelForValue(t); ctx.moveTo(xl, p); ctx.lineTo(xl - o.yTickLen, p); });
    ctx.stroke();
    ctx.font = '18px ' + FONT; ctx.textAlign = 'center'; ctx.textBaseline = 'alphabetic';
    o.xTicks.forEach((t,i) => { const s = o.xLabels[i]; if (s) ctx.fillText(s, xs.getPixelForValue(t), yb + 36); });
    o.yTicks.forEach((t,i) => {
      const s = o.yLabels[i]; if (!s) return;
      ctx.save(); ctx.translate(xl - o.yLabOff, ys.getPixelForValue(t)); ctx.rotate(-Math.PI/2); ctx.fillText(s, 0, 0); ctx.restore();
    });
    ctx.font = (o.xTitleBold ? 'bold ' : '') + '26px ' + FONT;
    ctx.fillText(o.xTitle, (a.left + a.right)/2 + (o.xTitleDx||0), yb + 84);
    ctx.font = '26px ' + FONT;
    ctx.save(); ctx.translate(xl - o.yTitleOff, (a.top + a.bottom)/2); ctx.rotate(-Math.PI/2); ctx.fillText(o.yTitle, 0, 0); ctx.restore();
    ctx.restore();
  }
};

const cols = [{l:0,w:440},{l:440,w:445},{l:885,w:448}];
const rows = [{t:40,h:390},{t:555,h:400},{t:1078,h:402}];

function makeCanvas(c, r){
  const cv = document.createElement('canvas');
  cv.width = c.w; cv.height = r.h;
  cv.style.left = c.l + 'px'; cv.style.top = r.t + 'px';
  cv.style.width = c.w + 'px'; cv.style.height = r.h + 'px';
  page.appendChild(cv);
  return cv;
}
function padding(c, r, p){
  return {left: p.l - c.l, top: p.t - r.t, right: c.l + c.w - p.r, bottom: r.t + r.h - p.b};
}
function baseOptions(c, r, p, xr, yr, axes){
  return {
    responsive:false, animation:false, events:[],
    layout:{padding: padding(c, r, p)},
    plugins:{legend:{display:false}, tooltip:{enabled:false}, rAxes: axes},
    scales:{
      x:{type:'linear', display:false, min:xr[0], max:xr[1], offset:false},
      y:{type:'linear', display:false, min:yr[0], max:yr[1]}
    }
  };
}

function histPanel(ri, counts, curve, yTicks, p, yr){
  const c = cols[0], r = rows[ri];
  const cv = makeCanvas(c, r);
  new Chart(cv, {
    type:'bar',
    data:{datasets:[
      {type:'line', data: curveX.map((x,i)=>({x, y:curve[i]})), borderColor:INK, borderWidth:2.8,
       pointRadius:0, fill:false, cubicInterpolationMode:'monotone', order:0},
      {type:'bar', data: histCenters.map((x,i)=>({x, y:counts[i]})), backgroundColor:'#ffffff',
       borderColor:INK, borderWidth:1.5, borderSkipped:false, barPercentage:1, categoryPercentage:1, order:1}
    ]},
    options: baseOptions(c, r, p, [-3.78, 3.78], yr, {
      box:false, xTicks:histXTicks, xLabels:histXTicks.map(String),
      yTicks:yTicks, yLabels:yTicks.map(String), yTickLen:10, yLabOff:20,
      xTitle:'npde', xTitleBold:false, yTitle:'Frequency', yTitleOff:66
    }),
    plugins:[rAxes]
  });
}

function scatterPanel(ri, ci, pts, capHi, capLo, p, xr, xTicks, xLabels, xTitle, yLabOff, yTitleOff, xTitleDx){
  const c = cols[ci], r = rows[ri];
  const cv = makeCanvas(c, r);
  const pointStyle = {pointStyle:'rectRot', pointRadius:4.7, pointBorderWidth:1.3, showLine:false,
    pointBorderColor:'rgba(20,20,20,0.9)', pointBackgroundColor:'rgba(0,0,0,0)'};
  const yr = [-3.31, 3.38];
  const lineDs = (lvl, dash) => ({type:'line', data:[{x:xr[0], y:lvl},{x:xr[1], y:lvl}], showLine:true,
    borderColor:'#262626', borderWidth:1.8, borderDash:dash, pointRadius:0, fill:false});
  new Chart(cv, {
    type:'scatter',
    data:{datasets:[
      Object.assign({data: pairs(pts)}, pointStyle),
      Object.assign({data: capPts(capHi, CAP_HI)}, pointStyle),
      Object.assign({data: capPts(capLo, CAP_LO)}, pointStyle),
      lineDs(refLevels[0], [10,6]),
      lineDs(refLevels[1], [1.8,3.2]),
      lineDs(refLevels[2], [1.8,3.2])
    ]},
    options: baseOptions(c, r, p, xr, yr, {
      box:true, xTicks:xTicks, xLabels:xLabels, yTicks:npdeTicks, yLabels:npdeTicks.map(String),
      yTickLen:12, yLabOff:yLabOff, xTitle:xTitle, xTitleBold:true, yTitle:'npde', yTitleOff:yTitleOff, xTitleDx:xTitleDx
    }),
    plugins:[rAxes]
  });
}

// Row 1: Morphine
histPanel(0, morHist, morCurve, morFreqTicks, {l:99, t:58.4, r:431, b:322.8}, [-4.8, 124.8]);
scatterPanel(0, 1, morTimePts, morTimeCapHi, morTimeCapLo, {l:538.3, t:57.3, r:870, b:321.7}, [-1.1, 29.5],
  timeTicks, timeTicks.map(String), 'Time [hrs]', 24, 61, 0);
scatterPanel(0, 2, morConcPts, morConcCapHi, morConcCapLo, {l:991.7, t:56.7, r:1322.7, b:321.7}, [-3.6, 99.0],
  morConcTicks, morConcTicks.map(String), 'Concentration [ng/ml]', 27, 62, 17);
// Row 2: M3G
histPanel(1, m3gHist, m3gCurve, glucFreqTicks, {l:99, t:579.4, r:431, b:843.8}, [-6.64, 172.6]);
scatterPanel(1, 1, m3gTimePts, m3gTimeCapHi, m3gTimeCapLo, {l:539, t:578.3, r:871.7, b:842.3}, [-1.1, 29.6],
  timeTicks, timeTicks.map(String), 'Time [hrs]', 24, 61, 0);
scatterPanel(1, 2, m3gConcPts, m3gConcCapHi, m3gConcCapLo, {l:991, t:579, r:1322.7, b:842.3}, [-6.0, 148.2],
  m3gConcTicks, m3gConcLabels, 'Concentration [ng/ml]', 27, 62, 13);
// Row 3: M6G
histPanel(2, m6gHist, m6gCurve, glucFreqTicks, {l:99, t:1100.2, r:431, b:1365.5}, [-6.76, 175.8]);
scatterPanel(2, 1, m6gTimePts, m6gTimeCapHi, m6gTimeCapLo, {l:539, t:1100, r:871.7, b:1364}, [-1.1, 29.6],
  timeTicks, timeTicks.map(String), 'Time [hrs]', 24, 61, 0);
scatterPanel(2, 2, m6gConcPts, m6gConcCapHi, m6gConcCapLo, {l:991.7, t:1101.7, r:1323.3, b:1365}, [-0.67, 17.4],
  m6gConcTicks, m6gConcTicks.map(String), 'Concentration [ng/ml]', 27, 62, 22);

// ---------------- TEXT ----------------
function addText(str, x, baseline, size, weight, align, sx){
  const d = document.createElement('div');
  d.className = 't'; d.textContent = str;
  d.style.fontSize = size + 'px'; d.style.fontWeight = weight;
  d.style.top = (baseline - 0.8465*size) + 'px';
  d.style.left = x + 'px';
  if (align === 'center') d.style.transform = 'translateX(-50%)';
  else if (sx) { d.style.transformOrigin = '0 0'; d.style.transform = 'scaleX(' + sx + ')'; }
  page.appendChild(d);
}
addText('B', 8, 38, 34, 'bold', 'left');
const titleX = [708, 706, 704], titleBase = [38, 554, 1072];
titles.forEach((t,i) => addText(t, titleX[i], titleBase[i], 39, 'bold', 'center'));
const meanBase = [453, 973, 1497], varBase = [477, 1003, 1525];
statsMean.forEach((t,i) => addText(t, 57, meanBase[i], 23, 'normal', 'left', 1.1));
statsVar.forEach((t,i) => addText(t, 57, varBase[i], 23, 'normal', 'left', 1.1));
</script></body></html>
